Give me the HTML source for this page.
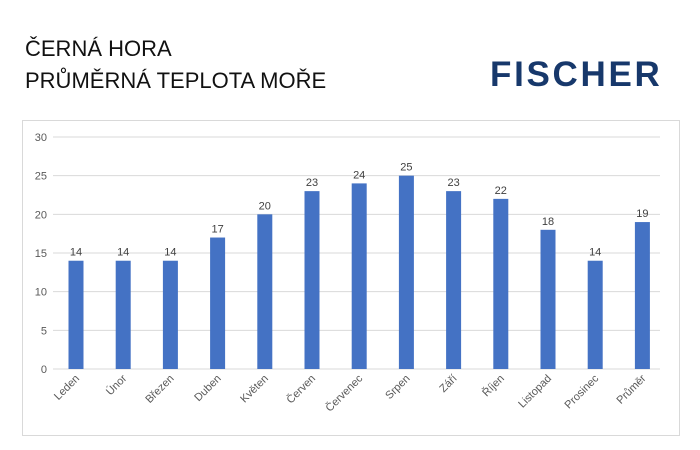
<!DOCTYPE html>
<html><head><meta charset="utf-8"><style>
body{margin:0;background:#fff;width:700px;height:450px;overflow:hidden;font-family:"Liberation Sans",sans-serif}
.t{position:absolute;left:25px;font-size:22px;color:#111}
</style></head><body>
<div class="t" style="top:36px">ČERNÁ HORA</div>
<div class="t" style="top:68px">PRŮMĚRNÁ TEPLOTA MOŘE</div>
<div style="position:absolute;left:490px;top:55px;font-size:35px;font-weight:bold;color:#17386b;letter-spacing:2.7px">FISCHER</div>
<svg id="c" width="700" height="450" style="position:absolute;left:0;top:0">
<rect x="22.5" y="120.5" width="657" height="315" fill="none" stroke="#d9d9d9"/>
</svg>
<script>
const categories=["Leden","Únor","Březen","Duben","Květen","Červen","Červenec","Srpen","Září","Říjen","Listopad","Prosinec","Průměr"];
const values=[14,14,14,17,20,23,24,25,23,22,18,14,19];
const ticks=[0,5,10,15,20,25,30];
const svg=document.getElementById('c');const NS='http://www.w3.org/2000/svg';
const y0=369,y1=137,ymax=30,x0=52.4,x1=666;
const gx0=53,gx1=660;
const y=v=>y0-(y0-y1)*v/ymax;
const step=(x1-x0)/categories.length;
const x=i=>x0+step*(i+0.5);
function mk(t,a,txt){const e=document.createElementNS(NS,t);for(const k in a)e.setAttribute(k,a[k]);if(txt!==undefined)e.textContent=txt;svg.appendChild(e);return e;}
ticks.forEach(t=>{
const l=mk('line',{x1:gx0,x2:gx1,y1:y(t),y2:y(t),stroke:'#d9d9d9','stroke-width':1});


const tx=mk('text',{x:47,y:y(t)+4,'text-anchor':'end','font-size':11,fill:'#595959','font-family':'Liberation Sans'},t);


});
categories.forEach((c,i)=>{
const v=values[i],cx=x(i);
const b=mk('rect',{x:cx-7.5,y:y(v),width:15,height:y0-y(v),fill:'#4472c4'});


const lb=mk('text',{x:cx,y:y(v)-5,'text-anchor':'middle','font-size':11,fill:'#404040','font-family':'Liberation Sans'},v);


const cl=mk('text',{x:cx+4,y:y0+10,'text-anchor':'end','font-size':11,fill:'#595959','font-family':'Liberation Sans',transform:`rotate(-45 ${cx+4} ${y0+10})`},c);


});
</script>
</body></html>
